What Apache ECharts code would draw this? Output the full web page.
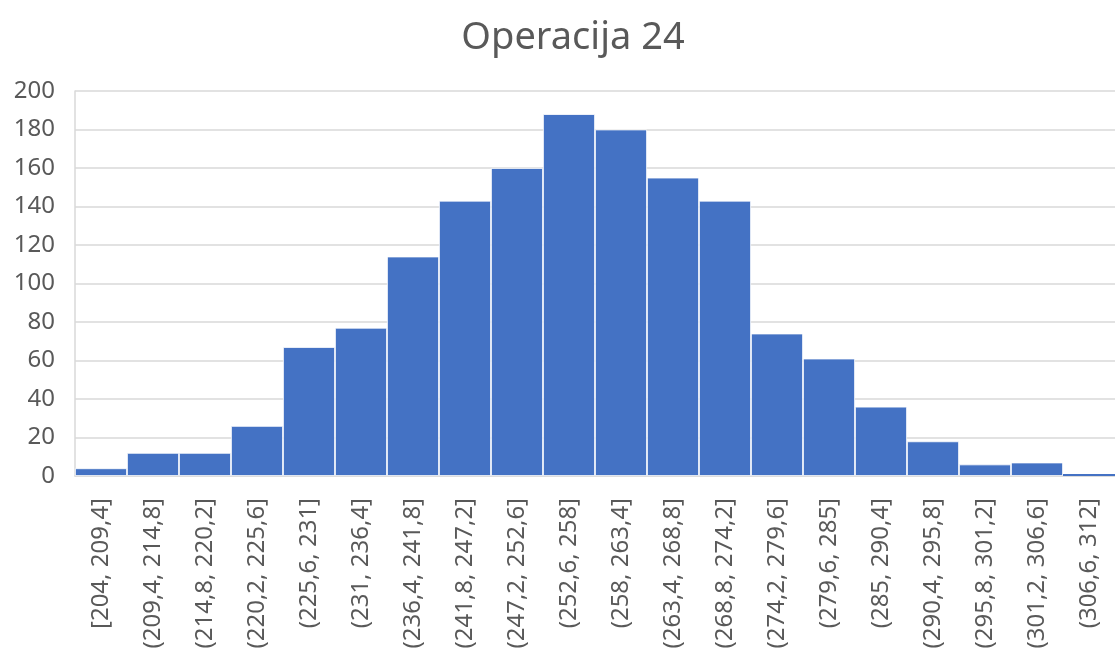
<!DOCTYPE html>
<html>
<head>
<meta charset="utf-8">
<script src="https://cdn.jsdelivr.net/npm/echarts@6/dist/echarts.min.js"></script>
<style>
  html, body { margin: 0; padding: 0; background: #fff; }
  #chart { width: 1115px; height: 657px; }
</style>
</head>
<body>
<div id="chart"></div>
<script>
// intervali i frekvencije
var intervali = ['[204, 209,4]', '(209,4, 214,8]', '(214,8, 220,2]', '(220,2, 225,6]', '(225,6, 231]',
    '(231, 236,4]', '(236,4, 241,8]', '(241,8, 247,2]', '(247,2, 252,6]', '(252,6, 258]',
    '(258, 263,4]', '(263,4, 268,8]', '(268,8, 274,2]', '(274,2, 279,6]', '(279,6, 285]',
    '(285, 290,4]', '(290,4, 295,8]', '(295,8, 301,2]', '(301,2, 306,6]', '(306,6, 312]'];
var frekvencije = [4, 12, 12, 26, 67, 77, 114, 143, 160, 188, 180, 155, 143, 74, 61, 36, 18, 6, 7, 1];
var yTicks = [0, 20, 40, 60, 80, 100, 120, 140, 160, 180, 200];

var chartDom = document.getElementById('chart');
var myChart = echarts.init(chartDom);
var option;

// vrlo niski stupci bez bijelog ruba, inače nestanu
var podaci = frekvencije.map(function(v) {
    return v < 3 ? { value: v, itemStyle: { borderWidth: 0 } } : v;
});

option = {
    animation: false,
    title: {
        text: 'Operacija 24',
        left: 568,
        textAlign: 'center',
        top: 14,
        textStyle: {
            fontFamily: 'Noto Sans',
            fontSize: 38,
            fontWeight: 'normal',
            color: '#595959'
        }
    },
    grid: {
        left: 75,
        right: 0,
        top: 91,
        bottom: 181
    },
    xAxis: {
        type: 'category',
        data: intervali,
        axisLine: { lineStyle: { color: '#d9d9d9', width: 1.5 } },
        axisTick: { show: false },
        axisLabel: {
            rotate: 90,
            interval: 0,
            margin: 22,
            fontFamily: 'Noto Sans',
            fontSize: 24,
            color: '#595959'
        }
    },
    yAxis: {
        type: 'value',
        min: yTicks[0],
        max: yTicks[yTicks.length - 1],
        interval: 20,
        axisLine: { show: true, lineStyle: { color: '#d9d9d9', width: 1.5 } },
        axisTick: { show: false },
        splitLine: { lineStyle: { color: '#d9d9d9', width: 1.5 } },
        axisLabel: {
            margin: 20,
            fontFamily: 'Noto Sans',
            fontSize: 24,
            color: '#595959'
        }
    },
    series: [{
        type: 'bar',
        data: podaci,
        barCategoryGap: '0%',
        z: 3,
        itemStyle: {
            color: '#4472c4',
            borderColor: '#ffffff',
            borderWidth: 0.8
        }
    }]
};

option && myChart.setOption(option);
</script>
</body>
</html>
